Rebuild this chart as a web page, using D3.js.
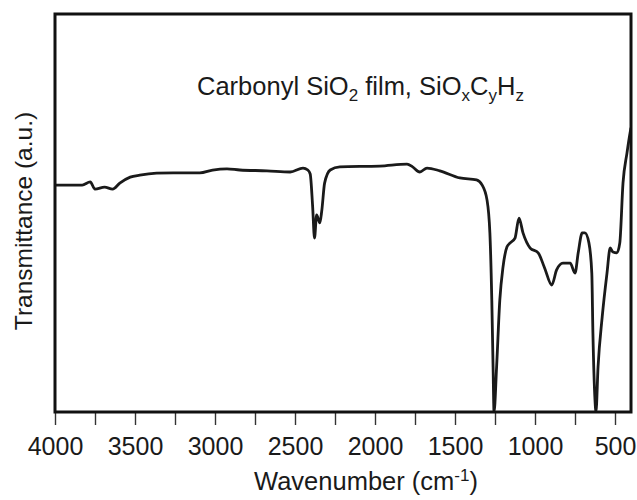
<!DOCTYPE html>
<html>
<head>
<meta charset="utf-8">
<script src="https://cdn.jsdelivr.net/npm/d3@7"></script>
<style>
  body { margin: 0; background: #fff; }
  svg text { font-family: "Liberation Sans", Arial, sans-serif; fill: #1a1a1a; }
</style>
</head>
<body>
<svg width="637" height="500"></svg>
<script>
// wavenumber (cm-1) and transmittance (a.u., 0-100 of the frame height)
var wavenumber = [4000, 3830, 3780, 3750, 3690, 3640, 3595, 3530, 3470, 3365, 3260, 3095, 3015, 2925, 2845,
    2675, 2530, 2450, 2420, 2405, 2390, 2378, 2365, 2345, 2332, 2315, 2280, 2220, 1970, 1800, 1765, 1720,
    1675, 1595, 1470, 1365, 1330, 1300, 1282, 1270, 1262, 1256, 1240, 1220, 1200, 1175, 1155, 1125, 1100,
    1075, 1030, 980, 940, 895, 865, 825, 780, 750, 730, 705, 688, 663, 645, 638, 625, 619, 606, 580, 550,
    530, 513, 488, 470, 450, 425, 406, 400];
var transmittance = [57.0, 57.0, 57.8, 56.0, 56.5, 56.0, 57.5, 59.0, 59.5, 60.0, 60.1, 60.1, 60.8, 61.1, 60.8,
    60.6, 60.3, 61.3, 60.8, 59.8, 51.8, 43.7, 49.5, 47.5, 50.8, 57.5, 60.8, 61.6, 61.8, 62.3, 61.6, 60.3,
    61.3, 60.6, 58.8, 58.3, 57.0, 53.3, 45.0, 28.1, 11.3, 0, 11.3, 28.1, 36.4, 41.5, 42.5, 43.7, 48.7,
    45.0, 41.2, 40.0, 36.2, 31.9, 35.7, 37.4, 37.4, 34.9, 40.0, 45.0, 45.0, 42.5, 34.9, 19.8, 3.0, 0, 11.3, 23.9, 34.9,
    41.2, 40.2, 40.0, 42.5, 57.5, 65.1, 70.1, 71.4];
var tickValues = [4000, 3750, 3500, 3250, 3000, 2750, 2500, 2250, 2000, 1750, 1500, 1250, 1000, 750, 500];
var tickLabels = ["4000", "3500", "3000", "2500", "2000", "1500", "1000", "500"];

var data = wavenumber.map(function (w, i) { return { w: w, t: transmittance[i] }; });

var svg = d3.select("svg");

var xScale = d3.scaleLinear()
    .domain([4000, 400])
    .range([55, 631]);

var yScale = d3.scaleLinear()
    .domain([0, 100])
    .range([412, 14]);

var xAxis = d3.axisBottom(xScale)
    .tickValues(tickValues)
    .tickSizeInner(13)
    .tickSizeOuter(0)
    .tickPadding(12)
    .tickFormat(function (d) { return tickLabels.indexOf(String(d)) >= 0 ? String(d) : ""; });

var xAxisG = svg.append("g")
    .attr("transform", "translate(0,412)")
    .call(xAxis);

xAxisG.select(".domain").remove();
xAxisG.selectAll(".tick line")
    .attr("stroke", "#333")
    .attr("stroke-width", 1.4);
xAxisG.selectAll(".tick text")
    .style("font-size", "25px")
    .style("font-family", "'Liberation Sans', Arial, sans-serif")
    .attr("fill", "#1a1a1a");

var spectrum = d3.line()
    .x(function (d) { return xScale(d.w); })
    .y(function (d) { return yScale(d.t); })
    .curve(d3.curveMonotoneX);

svg.append("defs").append("clipPath")
    .attr("id", "plotClip")
    .append("rect")
    .attr("x", xScale(4000))
    .attr("y", yScale(100))
    .attr("width", xScale(400) - xScale(4000))
    .attr("height", yScale(0) - yScale(100));

svg.append("path")
    .attr("d", spectrum(data))
    .attr("clip-path", "url(#plotClip)")
    .attr("fill", "none")
    .attr("stroke", "#1a1a1a")
    .attr("stroke-width", 2.8)
    .attr("stroke-linejoin", "round");

// frame
svg.append("rect")
    .attr("x", xScale(4000))
    .attr("y", yScale(100))
    .attr("width", xScale(400) - xScale(4000))
    .attr("height", yScale(0) - yScale(100))
    .attr("fill", "none")
    .attr("stroke", "#111")
    .attr("stroke-width", 3);

// title inside the plot
var title = svg.append("text")
    .attr("x", 197)
    .attr("y", 95)
    .style("font-size", "25.5px");
title.append("tspan").text("Carbonyl SiO");
title.append("tspan").attr("dy", 6).style("font-size", "17px").text("2");
title.append("tspan").attr("dy", -6).text(" film, SiO");
title.append("tspan").attr("dy", 6).style("font-size", "17px").text("x");
title.append("tspan").attr("dy", -6).text("C");
title.append("tspan").attr("dy", 6).style("font-size", "17px").text("y");
title.append("tspan").attr("dy", -6).text("H");
title.append("tspan").attr("dy", 6).style("font-size", "17px").text("z");

// axis labels
var xLabel = svg.append("text")
    .attr("x", 366)
    .attr("y", 490)
    .attr("text-anchor", "middle")
    .style("font-size", "25.5px");
xLabel.append("tspan").text("Wavenumber (cm");
xLabel.append("tspan").attr("dy", -9).style("font-size", "17px").text("-1");
xLabel.append("tspan").attr("dy", 9).text(")");

svg.append("text")
    .attr("transform", "translate(32," + ((yScale(0) + yScale(100)) / 2 + 8) + ") rotate(-90)")
    .attr("text-anchor", "middle")
    .style("font-size", "24.5px")
    .text("Transmittance (a.u.)");
</script>
</body>
</html>
